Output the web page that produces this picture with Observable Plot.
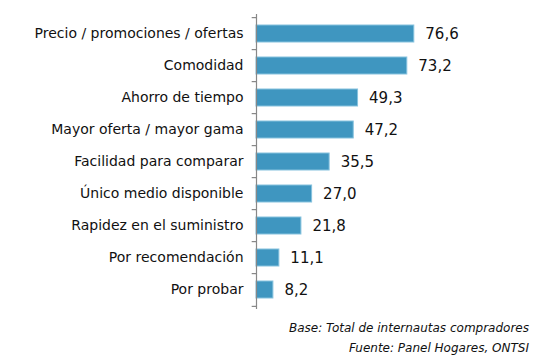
<!DOCTYPE html>
<html>
<head>
<meta charset="utf-8">
<script src="https://cdn.jsdelivr.net/npm/d3@7"></script>
<script src="https://cdn.jsdelivr.net/npm/@observablehq/plot@0.6"></script>
<style>
  body { margin: 0; background: #fff; font-family: "DejaVu Sans", Verdana, sans-serif; }
  #caption { width: 542px; box-sizing: border-box; padding-right: 13px; text-align: right; font-style: italic; font-size: 12px; line-height: 20px; color: #111; margin-top: 6px; }
</style>
</head>
<body>
<div id="chart"></div>
<div id="caption">Base: Total de internautas compradores<br>Fuente: Panel Hogares, ONTSI</div>
<script>
const categories = [
  "Precio / promociones / ofertas",
  "Comodidad",
  "Ahorro de tiempo",
  "Mayor oferta / mayor gama",
  "Facilidad para comparar",
  "Único medio disponible",
  "Rapidez en el suministro",
  "Por recomendación",
  "Por probar"
];
const values = [76.6, 73.2, 49.3, 47.2, 35.5, 27.0, 21.8, 11.1, 8.2];

const data = categories.map((c, i) => ({category: c, value: values[i]}));
const fmt = v => v.toFixed(1).replace(".", ",");

const marginTop = 14, height = 312, marginBottom = 3;
const step = (height - marginBottom - marginTop) / categories.length;

const chart = Plot.plot({
  width: 542,
  height,
  marginTop,
  marginBottom,
  marginLeft: 256,
  marginRight: 80,
  style: {fontFamily: "'DejaVu Sans', Verdana, sans-serif", color: "#111", background: "#fff"},
  x: {domain: [0, 100], axis: null},
  y: {domain: categories, paddingInner: 0.48, paddingOuter: 0.24, label: null},
  marks: [
    Plot.axisY({tickSize: 0, tickPadding: 13, fontSize: 14, label: null}),
    Plot.barX(data, {y: "category", x: "value", fill: "#3f96c0", stroke: "#86c2de", strokeWidth: 1}),
    Plot.text(data, {y: "category", x: "value", text: d => fmt(d.value), textAnchor: "start", dx: 11, fontSize: 15, fill: "#111"}),
    Plot.ruleY(categories, {y: d => d, x1: -2.1, x2: 0, dy: -step / 2, stroke: "#888", strokeWidth: 1.2}),
    Plot.ruleY(categories.slice(-1), {y: d => d, x1: -2.1, x2: 0, dy: step / 2, stroke: "#888", strokeWidth: 1.2}),
    Plot.ruleX([0], {stroke: "#888", strokeWidth: 1.2})
  ]
});
document.getElementById("chart").append(chart);
</script>
</body>
</html>
